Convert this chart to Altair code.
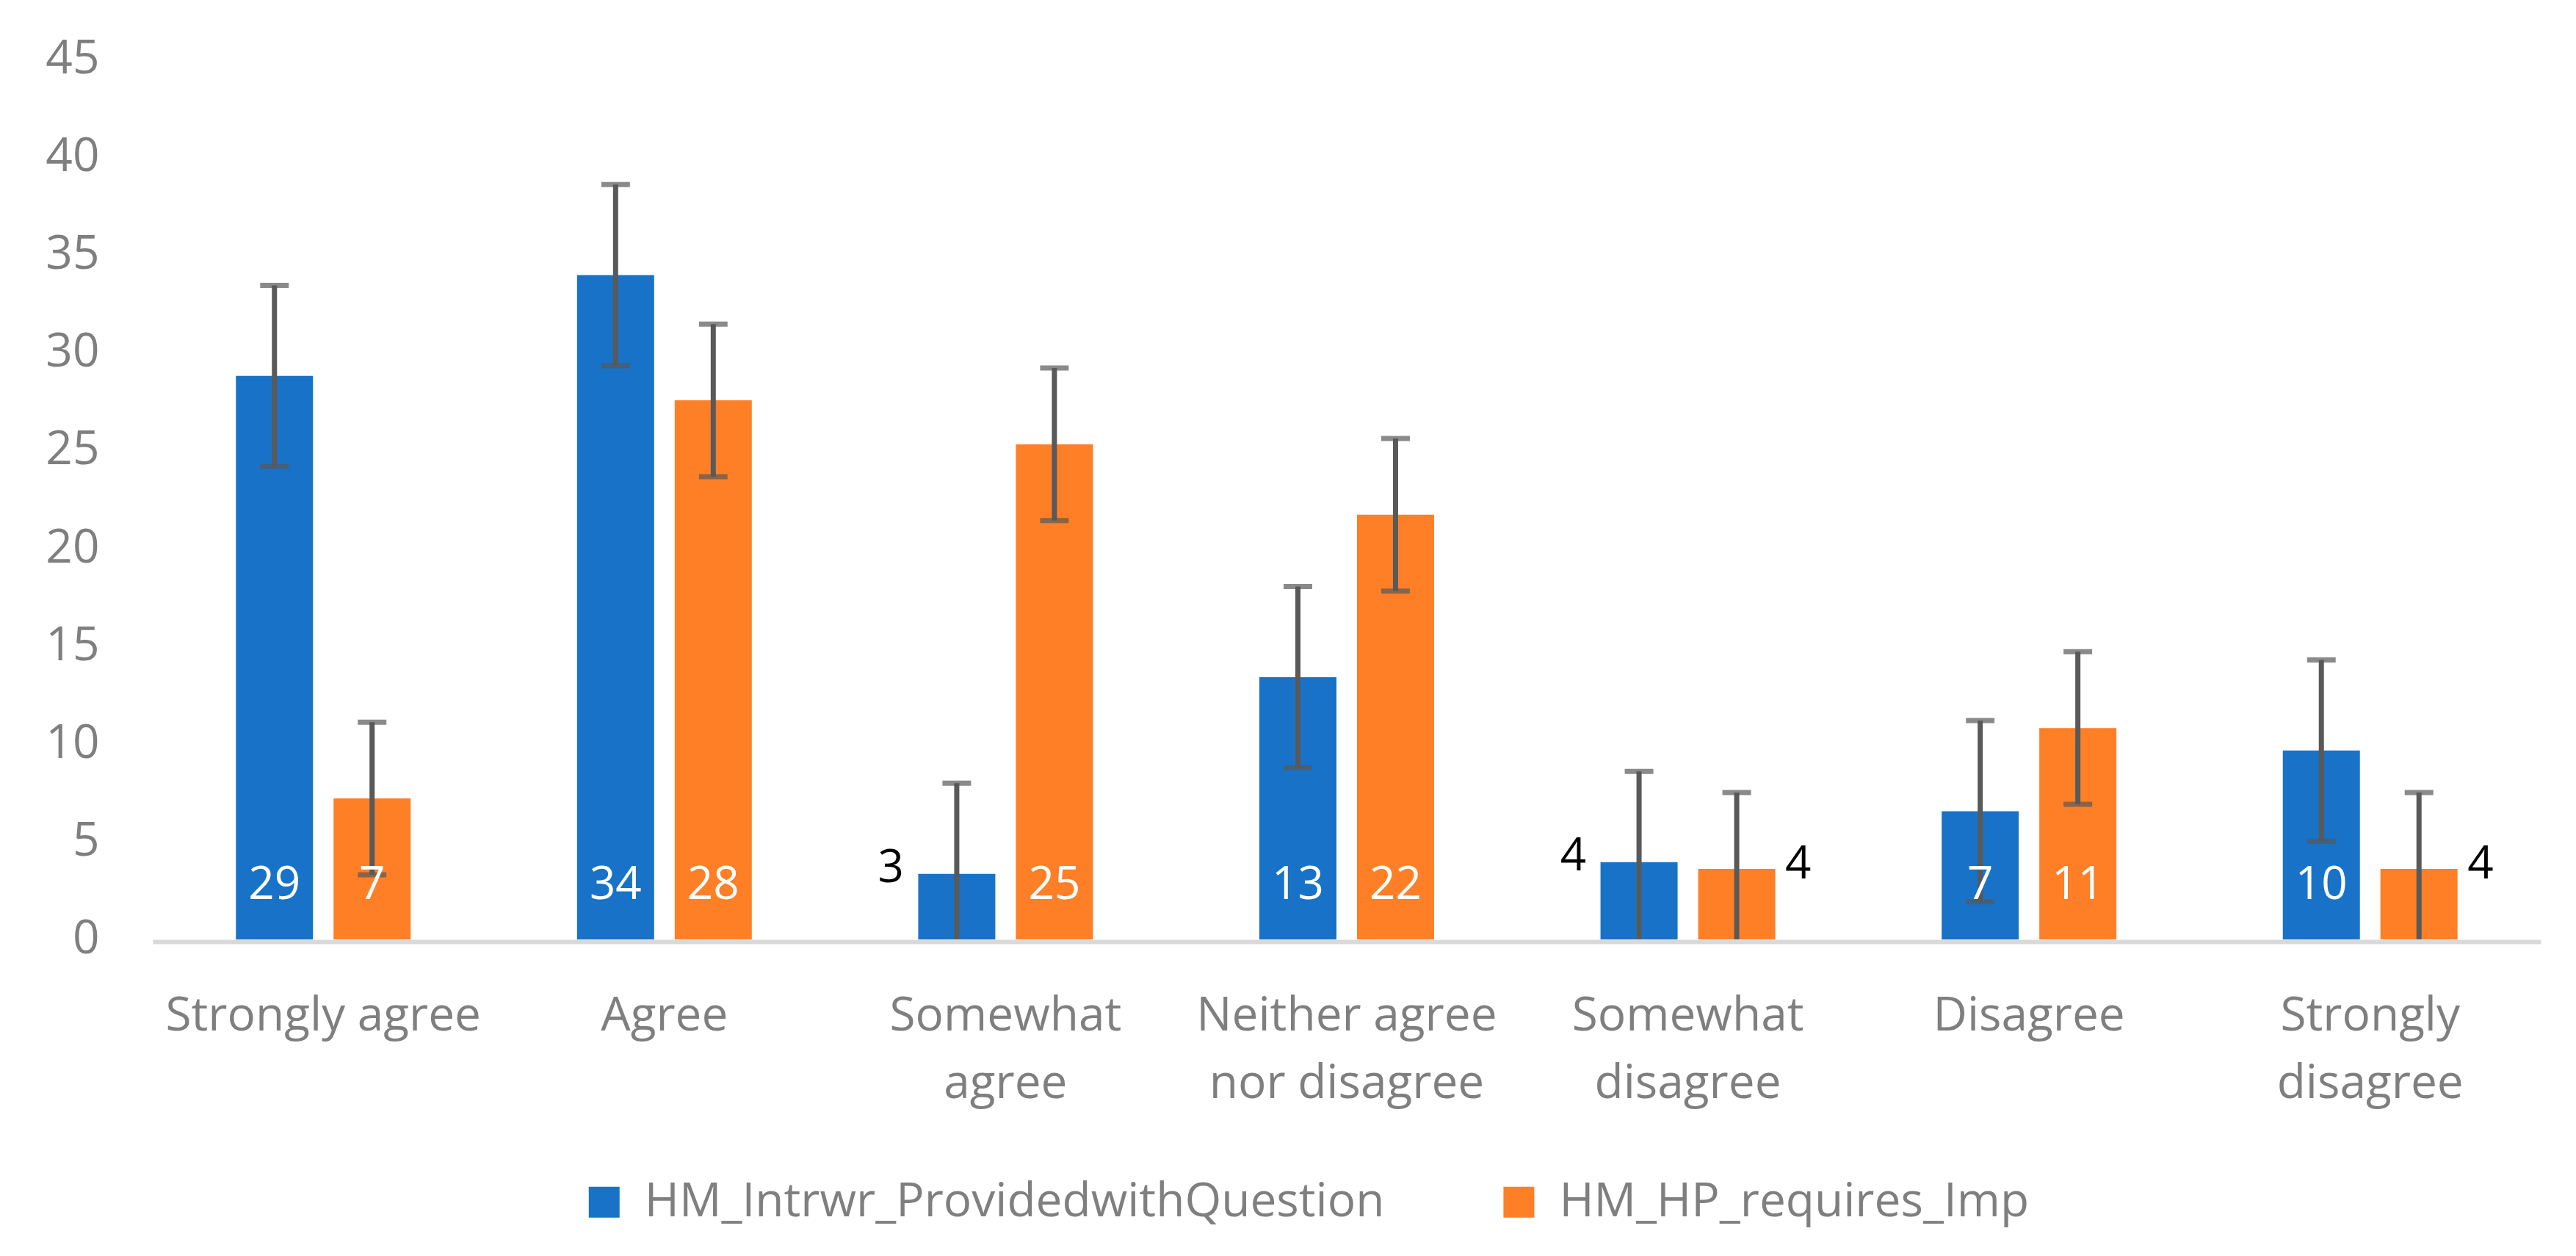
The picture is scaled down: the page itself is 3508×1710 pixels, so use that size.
import json
import altair as alt
import pandas as pd

categories = [
    "Strongly agree",
    "Agree",
    "Somewhat agree",
    "Neither agree nor disagree",
    "Somewhat disagree",
    "Disagree",
    "Strongly disagree",
]
series_names = ["HM_Intrwr_ProvidedwithQuestion", "HM_HP_requires_Imp"]
blue_values = [28.8, 33.95, 3.35, 13.4, 3.95, 6.55, 9.65]
orange_values = [7.2, 27.55, 25.3, 21.7, 3.6, 10.8, 3.6]
blue_errors = [4.63, 4.63, 4.63, 4.63, 4.63, 4.63, 4.63]
orange_errors = [3.9, 3.9, 3.9, 3.9, 3.9, 3.9, 3.9]
series_colors = ["#1873C8", "#FF7F27"]
y_ticks = [0, 5, 10, 15, 20, 25, 30, 35, 40, 45]
x_label_lines = {
    "Strongly agree": ["Strongly agree"],
    "Agree": ["Agree"],
    "Somewhat agree": ["Somewhat", "agree"],
    "Neither agree nor disagree": ["Neither agree", "nor disagree"],
    "Somewhat disagree": ["Somewhat", "disagree"],
    "Disagree": ["Disagree"],
    "Strongly disagree": ["Strongly", "disagree"],
}

rows = []
for name, vals, errs in (
    (series_names[0], blue_values, blue_errors),
    (series_names[1], orange_values, orange_errors),
):
    for cat, v, e in zip(categories, vals, errs):
        if v >= 5:
            placement = "in"
        elif name == series_names[0]:
            placement = "left"
        else:
            placement = "right"
        rows.append(
            dict(category=cat, series=name, value=v, lower=v - e, upper=v + e,
                 placement=placement)
        )
df = pd.DataFrame(rows)

label_expr = " : ".join(
    f"datum.value === {json.dumps(c)} ? {json.dumps(x_label_lines[c])}" for c in categories
) + " : datum.value"

FONT = "Open Sans"
GRAY = "#7F7F7F"
ERR = "#595959"

base = alt.Chart(df).encode(
    x=alt.X(
        "category:N",
        sort=categories,
        scale=alt.Scale(paddingInner=0.4878, paddingOuter=0.2439),
        axis=alt.Axis(
            title=None, labelAngle=0, labelExpr=label_expr, ticks=False, tickSize=0,
            domainColor="#D9D9D9", domainWidth=6, labelPadding=70,
            labelLineHeight=92, labelFont=FONT, labelFontSize=64, labelColor=GRAY,
            offset=3, labelLimit=0,
        ),
    ),
    xOffset=alt.XOffset(
        "series:N", sort=series_names,
        scale=alt.Scale(paddingInner=0.2105, paddingOuter=0),
    ),
)

yscale = alt.Scale(domain=[0, 45], nice=False, zero=True)
yaxis = alt.Axis(
    title=None, values=y_ticks, domain=False, ticks=False, tickSize=0, grid=False,
    labelPadding=73, labelFont=FONT, labelFontSize=64, labelColor=GRAY,
)

bars = base.mark_bar().encode(
    y=alt.Y("value:Q", scale=yscale, axis=yaxis),
    color=alt.Color(
        "series:N",
        scale=alt.Scale(domain=series_names, range=series_colors),
        legend=alt.Legend(
            orient="none", legendX=583, legendY=1525, direction="horizontal",
            title=None, symbolType="square", symbolSize=1764, symbolStrokeWidth=0,
            labelFont=FONT, labelFontSize=64, labelColor=GRAY, labelOffset=23,
            columnPadding=150, padding=0, labelLimit=0,
        ),
    ),
)

rules = base.mark_rule(color=ERR, strokeWidth=7, clip=True).encode(
    y=alt.Y("lower:Q", scale=yscale, axis=yaxis), y2="upper:Q"
)
caps_up = base.mark_tick(color=ERR, size=39, thickness=7, clip=True).encode(
    y=alt.Y("upper:Q", scale=yscale, axis=yaxis)
)
caps_low = base.mark_tick(color=ERR, size=39, thickness=7, clip=True).encode(
    y=alt.Y("lower:Q", scale=yscale, axis=yaxis)
)

labels_in = base.transform_filter(alt.datum.placement == "in").mark_text(
    font=FONT, fontSize=62, color="white", baseline="alphabetic", dy=-55
).encode(y=alt.datum(0), text=alt.Text("value:Q", format=".0f"))

labels_left = base.transform_filter(alt.datum.placement == "left").mark_text(
    font=FONT, fontSize=62, color="black", baseline="middle", align="right", dx=-72, dy=-8
).encode(y=alt.Y("value:Q", scale=yscale, axis=yaxis), text=alt.Text("value:Q", format=".0f"))

labels_right = base.transform_filter(alt.datum.placement == "right").mark_text(
    font=FONT, fontSize=62, color="black", baseline="middle", align="left", dx=66, dy=-6
).encode(y=alt.Y("value:Q", scale=yscale, axis=yaxis), text=alt.Text("value:Q", format=".0f"))

chart = (
    alt.layer(bars, rules, caps_up, caps_low, labels_in, labels_left, labels_right)
    .properties(
        width=3253, height=1199,
        autosize=alt.AutoSizeParams(type="none"),
        padding={"left": 200, "top": 72, "right": 40, "bottom": 420},
        background="white",
    )
    .configure_view(stroke=None)
)

chart.save("out.html", embed_options={"renderer": "svg", "actions": False})
